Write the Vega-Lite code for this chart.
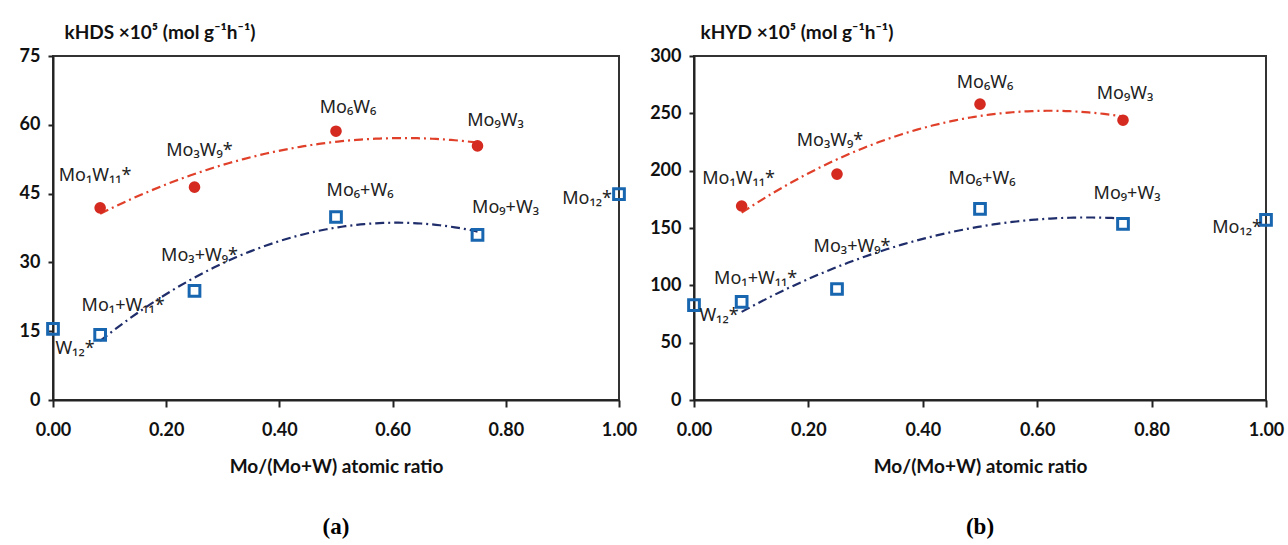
{
  "$schema": "https://vega.github.io/schema/vega-lite/v6.json",
  "background": "white",
  "padding": {"left": 18, "top": 22, "right": 2, "bottom": 2},
  "spacing": 10,
  "datasets": {
    "a": [
      {"ratio": 0.0833, "k": 41.9, "catalyst": "bimetallic", "label": "Mo₁W₁₁*"},
      {"ratio": 0.25, "k": 46.4, "catalyst": "bimetallic", "label": "Mo₃W₉*"},
      {"ratio": 0.5, "k": 58.6, "catalyst": "bimetallic", "label": "Mo₆W₆"},
      {"ratio": 0.75, "k": 55.4, "catalyst": "bimetallic", "label": "Mo₉W₃"},
      {"ratio": 0.0, "k": 15.5, "catalyst": "mixture", "label": "W₁₂*"},
      {"ratio": 0.0833, "k": 14.2, "catalyst": "mixture", "label": "Mo₁+W₁₁*"},
      {"ratio": 0.25, "k": 23.8, "catalyst": "mixture", "label": "Mo₃+W₉*"},
      {"ratio": 0.5, "k": 39.9, "catalyst": "mixture", "label": "Mo₆+W₆"},
      {"ratio": 0.75, "k": 36.0, "catalyst": "mixture", "label": "Mo₉+W₃"},
      {"ratio": 1.0, "k": 44.9, "catalyst": "mixture", "label": "Mo₁₂*"}
    ],
    "b": [
      {"ratio": 0.0833, "k": 169.2, "catalyst": "bimetallic", "label": "Mo₁W₁₁*"},
      {"ratio": 0.25, "k": 197.0, "catalyst": "bimetallic", "label": "Mo₃W₉*"},
      {"ratio": 0.5, "k": 258.0, "catalyst": "bimetallic", "label": "Mo₆W₆"},
      {"ratio": 0.75, "k": 244.0, "catalyst": "bimetallic", "label": "Mo₉W₃"},
      {"ratio": 0.0, "k": 82.8, "catalyst": "mixture", "label": "W₁₂*"},
      {"ratio": 0.0833, "k": 85.5, "catalyst": "mixture", "label": "Mo₁+W₁₁*"},
      {"ratio": 0.25, "k": 96.8, "catalyst": "mixture", "label": "Mo₃+W₉*"},
      {"ratio": 0.5, "k": 166.6, "catalyst": "mixture", "label": "Mo₆+W₆"},
      {"ratio": 0.75, "k": 153.5, "catalyst": "mixture", "label": "Mo₉+W₃"},
      {"ratio": 1.0, "k": 157.0, "catalyst": "mixture", "label": "Mo₁₂*"}
    ]
  },
  "config": {
    "font": "Lato",
    "view": {"stroke": "#333", "strokeWidth": 2},
    "axis": {
      "grid": false,
      "domainColor": "#222", "domainWidth": 2,
      "tickColor": "#222", "tickWidth": 2,
      "labelFont": "Lato", "labelFontWeight": "bold", "labelFontSize": 18, "labelColor": "#111",
      "titleFont": "Lato", "titleFontWeight": "bold", "titleFontSize": 19, "titleColor": "#111"
    },
    "axisX": {"tickSize": 7, "labelPadding": 14, "titlePadding": 18, "labelFlush": false},
    "axisY": {"tickSize": 5, "labelPadding": 8},
    "text": {"font": "Noto Sans", "fontSize": 18, "color": "#222", "align": "center", "baseline": "middle"},
    "title": {"font": "Liberation Serif", "fontSize": 23, "fontWeight": "bold", "color": "#000", "orient": "bottom", "anchor": "middle", "offset": 40}
  },
  "hconcat": [
    {
      "width": 566, "height": 344,
      "data": {"name": "a"},
      "title": {"text": "(a)"},
      "encoding": {
        "x": {"field": "ratio", "type": "quantitative", "scale": {"domain": [0, 1], "nice": false},
              "axis": {"values": [0, 0.2, 0.4, 0.6, 0.8, 1], "format": ".2f", "title": "Mo/(Mo+W) atomic ratio"}},
        "y": {"field": "k", "type": "quantitative", "scale": {"domain": [0, 75], "nice": false},
              "axis": {"values": [0, 15, 30, 45, 60, 75], "title": "kHDS ×10⁵ (mol g⁻¹h⁻¹)",
                       "titleAngle": 0, "titleAlign": "left", "titleBaseline": "alphabetic", "titleX": 11, "titleY": -18, "titleFontSize": 19}}
      },
      "layer": [
        {"transform": [{"filter": "datum.catalyst === 'bimetallic'"}, {"regression": "k", "on": "ratio", "method": "poly", "order": 2}],
         "mark": {"type": "line", "color": "#e0402a", "strokeWidth": 2.2, "strokeDash": [9, 4, 2, 4]}},
        {"transform": [{"filter": "datum.catalyst === 'mixture' && datum.ratio > 0.05 && datum.ratio < 0.9"}, {"regression": "k", "on": "ratio", "method": "poly", "order": 2}],
         "mark": {"type": "line", "color": "#1f2d6b", "strokeWidth": 2.2, "strokeDash": [9, 4, 2, 4]}},
        {"transform": [{"filter": "datum.catalyst === 'bimetallic'"}],
         "mark": {"type": "point", "shape": "circle", "filled": true, "color": "#d42a20", "size": 135, "opacity": 1}},
        {"transform": [{"filter": "datum.catalyst === 'mixture'"}],
         "mark": {"type": "point", "shape": "square", "filled": false, "color": "#1966b0", "strokeWidth": 3, "size": 115, "opacity": 1}},
        {"transform": [{"filter": "datum.label === 'Mo₁W₁₁*'"}], "mark": {"type": "text", "dx": -5, "dy": -32}, "encoding": {"text": {"field": "label"}}},
        {"transform": [{"filter": "datum.label === 'Mo₃W₉*'"}], "mark": {"type": "text", "dx": 5, "dy": -36}, "encoding": {"text": {"field": "label"}}},
        {"transform": [{"filter": "datum.label === 'Mo₆W₆'"}], "mark": {"type": "text", "dx": 12, "dy": -23}, "encoding": {"text": {"field": "label"}}},
        {"transform": [{"filter": "datum.label === 'Mo₉W₃'"}], "mark": {"type": "text", "dx": 18, "dy": -25}, "encoding": {"text": {"field": "label"}}},
        {"transform": [{"filter": "datum.label === 'Mo₆+W₆'"}], "mark": {"type": "text", "dx": 24, "dy": -26}, "encoding": {"text": {"field": "label"}}},
        {"transform": [{"filter": "datum.label === 'Mo₉+W₃'"}], "mark": {"type": "text", "dx": 28, "dy": -27}, "encoding": {"text": {"field": "label"}}},
        {"transform": [{"filter": "datum.label === 'Mo₁+W₁₁*'"}], "mark": {"type": "text", "dx": 23, "dy": -29}, "encoding": {"text": {"field": "label"}}},
        {"transform": [{"filter": "datum.label === 'Mo₃+W₉*'"}], "mark": {"type": "text", "dx": 5, "dy": -35}, "encoding": {"text": {"field": "label"}}},
        {"transform": [{"filter": "datum.label === 'W₁₂*'"}], "mark": {"type": "text", "dx": 22, "dy": 20}, "encoding": {"text": {"field": "label"}}},
        {"transform": [{"filter": "datum.label === 'Mo₁₂*'"}], "mark": {"type": "text", "align": "right", "dx": -7, "dy": 5}, "encoding": {"text": {"field": "label"}}}
      ]
    },
    {
      "width": 572, "height": 344,
      "data": {"name": "b"},
      "title": {"text": "(b)"},
      "encoding": {
        "x": {"field": "ratio", "type": "quantitative", "scale": {"domain": [0, 1], "nice": false},
              "axis": {"values": [0, 0.2, 0.4, 0.6, 0.8, 1], "format": ".2f", "title": "Mo/(Mo+W) atomic ratio"}},
        "y": {"field": "k", "type": "quantitative", "scale": {"domain": [0, 300], "nice": false},
              "axis": {"values": [0, 50, 100, 150, 200, 250, 300], "title": "kHYD ×10⁵ (mol g⁻¹h⁻¹)",
                       "titleAngle": 0, "titleAlign": "left", "titleBaseline": "alphabetic", "titleX": 6, "titleY": -18, "titleFontSize": 19}}
      },
      "layer": [
        {"transform": [{"filter": "datum.catalyst === 'bimetallic'"}, {"regression": "k", "on": "ratio", "method": "poly", "order": 2}],
         "mark": {"type": "line", "color": "#e0402a", "strokeWidth": 2.2, "strokeDash": [9, 4, 2, 4]}},
        {"transform": [{"filter": "datum.catalyst === 'mixture' && datum.ratio > 0.05 && datum.ratio < 0.9"}, {"regression": "k", "on": "ratio", "method": "poly", "order": 2}],
         "mark": {"type": "line", "color": "#1f2d6b", "strokeWidth": 2.2, "strokeDash": [9, 4, 2, 4]}},
        {"transform": [{"filter": "datum.catalyst === 'bimetallic'"}],
         "mark": {"type": "point", "shape": "circle", "filled": true, "color": "#d42a20", "size": 135, "opacity": 1}},
        {"transform": [{"filter": "datum.catalyst === 'mixture'"}],
         "mark": {"type": "point", "shape": "square", "filled": false, "color": "#1966b0", "strokeWidth": 3, "size": 115, "opacity": 1}},
        {"transform": [{"filter": "datum.label === 'Mo₁W₁₁*'"}], "mark": {"type": "text", "dx": -3, "dy": -27}, "encoding": {"text": {"field": "label"}}},
        {"transform": [{"filter": "datum.label === 'Mo₃W₉*'"}], "mark": {"type": "text", "dx": -7, "dy": -33}, "encoding": {"text": {"field": "label"}}},
        {"transform": [{"filter": "datum.label === 'Mo₆W₆'"}], "mark": {"type": "text", "dx": 5, "dy": -21}, "encoding": {"text": {"field": "label"}}},
        {"transform": [{"filter": "datum.label === 'Mo₉W₃'"}], "mark": {"type": "text", "dx": 2, "dy": -26}, "encoding": {"text": {"field": "label"}}},
        {"transform": [{"filter": "datum.label === 'Mo₆+W₆'"}], "mark": {"type": "text", "dx": 2, "dy": -30}, "encoding": {"text": {"field": "label"}}},
        {"transform": [{"filter": "datum.label === 'Mo₉+W₃'"}], "mark": {"type": "text", "dx": 4, "dy": -30}, "encoding": {"text": {"field": "label"}}},
        {"transform": [{"filter": "datum.label === 'Mo₁+W₁₁*'"}], "mark": {"type": "text", "dx": 14, "dy": -23}, "encoding": {"text": {"field": "label"}}},
        {"transform": [{"filter": "datum.label === 'Mo₃+W₉*'"}], "mark": {"type": "text", "dx": 15, "dy": -42}, "encoding": {"text": {"field": "label"}}},
        {"transform": [{"filter": "datum.label === 'W₁₂*'"}], "mark": {"type": "text", "dx": 25, "dy": 11}, "encoding": {"text": {"field": "label"}}},
        {"transform": [{"filter": "datum.label === 'Mo₁₂*'"}], "mark": {"type": "text", "align": "right", "dx": -4, "dy": 8}, "encoding": {"text": {"field": "label"}}}
      ]
    }
  ]
}
